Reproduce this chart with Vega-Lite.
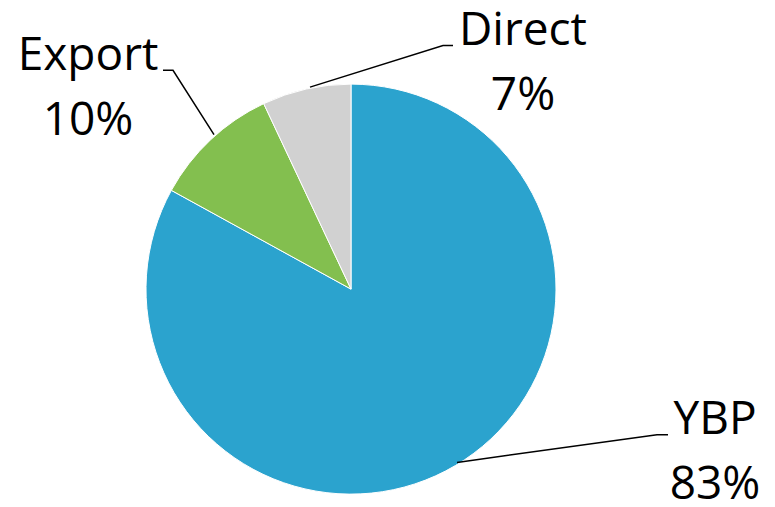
{
  "$schema": "https://vega.github.io/schema/vega-lite/v6.json",
  "width": 775,
  "height": 507,
  "autosize": {"type": "fit", "contains": "padding"},
  "padding": 0,
  "background": "white",
  "view": {"stroke": null},
  "datasets": {
    "slices": [
      {"cat": "YBP", "pct": 83, "ord": 1, "cx": 351, "cy": 292},
      {"cat": "Export", "pct": 10, "ord": 2, "cx": 351, "cy": 292},
      {"cat": "Direct", "pct": 7, "ord": 3, "cx": 351, "cy": 292}
    ],
    "leaders": [
      {"cat": "Export", "pt": 1, "lx": 163, "ly": 71},
      {"cat": "Export", "pt": 2, "lx": 173, "ly": 71},
      {"cat": "Export", "pt": 3, "lx": 214, "ly": 136},
      {"cat": "Direct", "pt": 1, "lx": 453, "ly": 46},
      {"cat": "Direct", "pt": 2, "lx": 443, "ly": 46},
      {"cat": "Direct", "pt": 3, "lx": 310, "ly": 88},
      {"cat": "YBP", "pt": 1, "lx": 668, "ly": 439},
      {"cat": "YBP", "pt": 2, "lx": 657, "ly": 439},
      {"cat": "YBP", "pt": 3, "lx": 457, "ly": 467}
    ],
    "labels": [
      {"cat": "Export", "txt": ["Export", "10%"], "tx": 88, "ty": 71},
      {"cat": "Direct", "txt": ["Direct", "7%"], "tx": 523, "ty": 45},
      {"cat": "YBP", "txt": ["YBP", "83%"], "tx": 715, "ty": 438}
    ]
  },
  "layer": [
    {
      "data": {"name": "slices"},
      "mark": {"type": "arc", "radius": 205, "stroke": "white", "strokeWidth": 1},
      "encoding": {
        "x": {"field": "cx", "type": "quantitative", "scale": {"domain": [0, 775], "nice": false, "zero": false}, "axis": null},
        "y": {"field": "cy", "type": "quantitative", "scale": {"domain": [0, 507], "reverse": true, "nice": false, "zero": false}, "axis": null},
        "theta": {"field": "pct", "type": "quantitative", "stack": true},
        "order": {"field": "ord", "type": "quantitative"},
        "color": {
          "field": "cat", "type": "nominal", "legend": null,
          "scale": {"domain": ["YBP", "Export", "Direct"], "range": ["#2BA3CE", "#83BF4F", "#D1D1D1"]}
        }
      }
    },
    {
      "data": {"name": "leaders"},
      "mark": {"type": "line", "color": "black", "strokeWidth": 1.5},
      "encoding": {
        "x": {"field": "lx", "type": "quantitative", "scale": {"domain": [0, 775]}, "axis": null},
        "y": {"field": "ly", "type": "quantitative", "scale": {"domain": [0, 507], "reverse": true}, "axis": null},
        "detail": {"field": "cat"},
        "order": {"field": "pt", "type": "quantitative"}
      }
    },
    {
      "data": {"name": "labels"},
      "mark": {"type": "text", "font": "Open Sans", "fontSize": 46, "align": "center", "baseline": "alphabetic", "lineHeight": 65, "color": "black"},
      "encoding": {
        "x": {"field": "tx", "type": "quantitative", "scale": {"domain": [0, 775]}, "axis": null},
        "y": {"field": "ty", "type": "quantitative", "scale": {"domain": [0, 507], "reverse": true}, "axis": null},
        "text": {"field": "txt"}
      }
    }
  ]
}
